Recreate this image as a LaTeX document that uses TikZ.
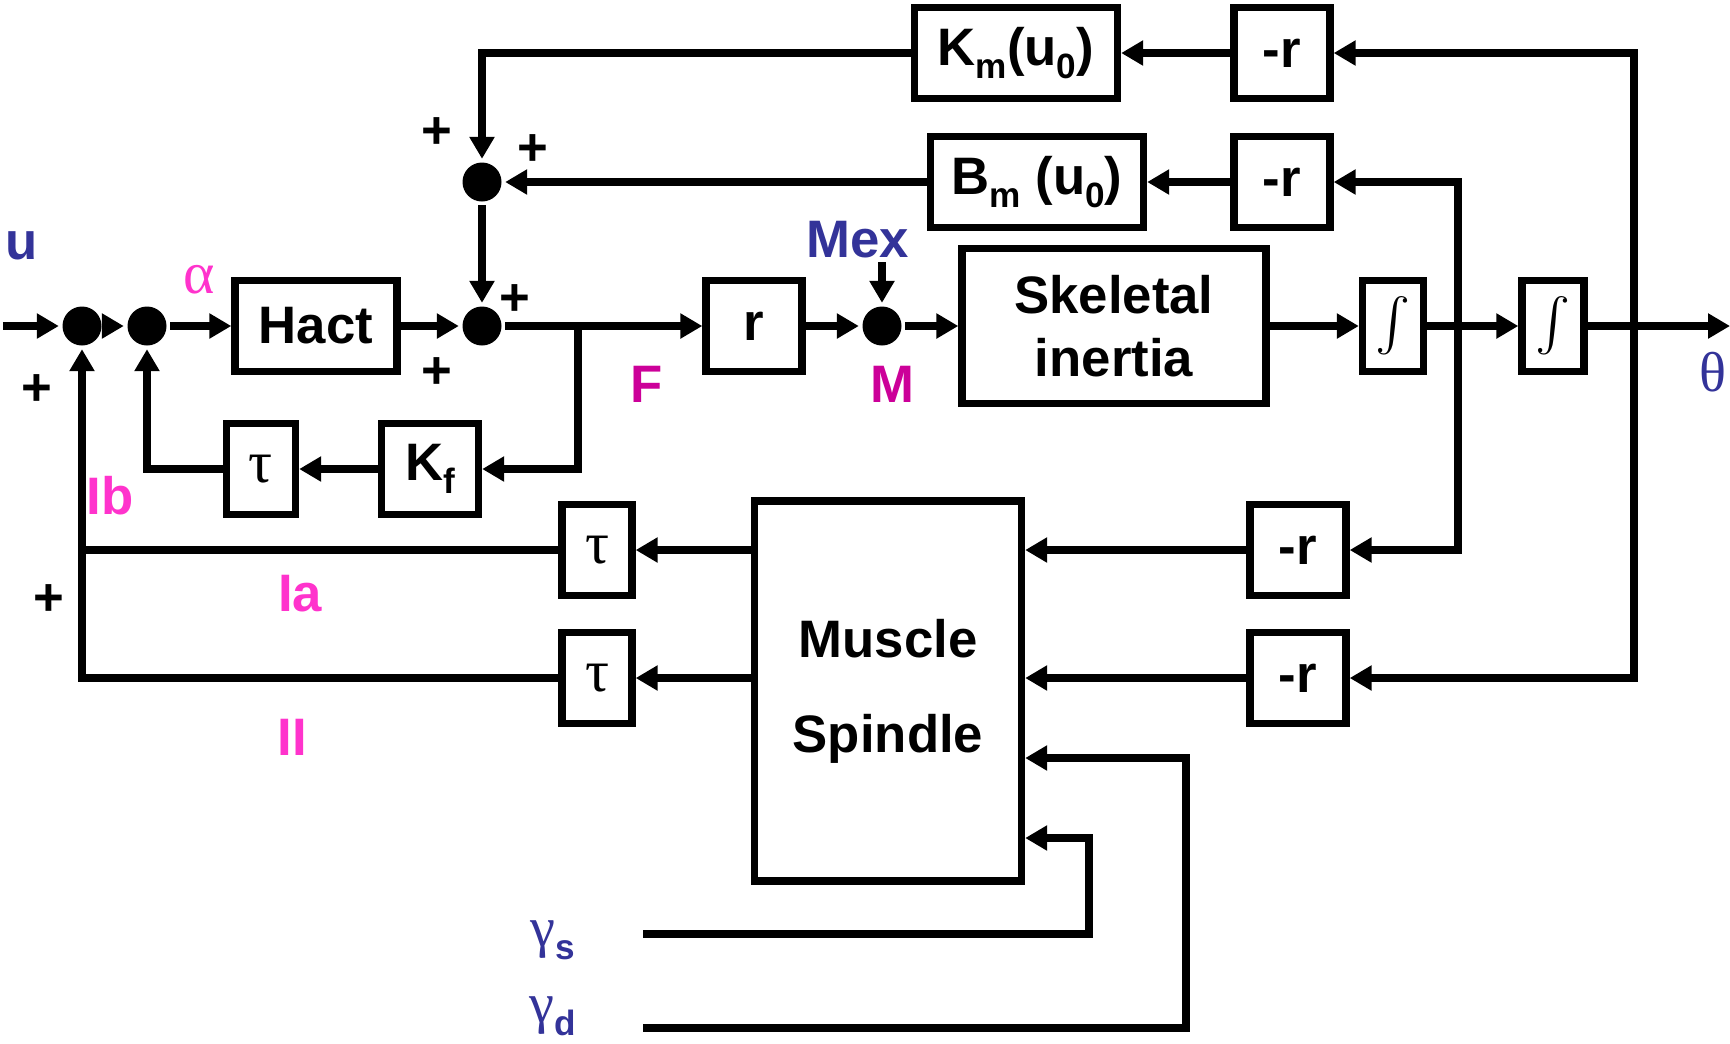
\documentclass[tikz,border=0pt]{standalone}
\usepackage{fontspec}
\usepackage{graphicx}
\setmainfont{Liberation Sans}
\newfontfamily\grk{Liberation Serif}
\usetikzlibrary{arrows.meta}

\definecolor{sigblue}{HTML}{333399}
\definecolor{sigpink}{HTML}{FF33CC}
\definecolor{sigmag}{HTML}{CC0099}

\newcommand{\lowsub}[1]{\raisebox{-1.3mm}{\fontsize{10}{10}\selectfont #1}}

\begin{document}
\begin{tikzpicture}[
    x=0.1mm, y=-0.1mm,
    line width=2.1pt,
    >={Triangle[length=2.2mm, width=2.4mm]},
    every node/.style={font=\fontsize{15}{18}\selectfont\bfseries},
    block/.style={draw, rectangle, inner sep=0pt, align=center, minimum height=9.1mm},
    sumpt/.style={circle, fill=black, draw=none, inner sep=0pt, minimum size=3.9mm},
    greeklbl/.style={font=\grk\fontsize{17}{17}\selectfont}
]
    \useasboundingbox (0,0) rectangle (1730,1043);

    % --------------------------------------------------------
    % 1. SUMMING POINTS AND BLOCKS
    % --------------------------------------------------------

    \node (s1) [sumpt] at (82,326) {};
    \node (s2) [sumpt] at (147,326) {};
    \node (s3) [sumpt] at (482,326) {};
    \node (s4) [sumpt] at (482,182) {};
    \node (s5) [sumpt] at (882,326) {};

    % forward path
    \node (hact) [block, minimum width=16.2mm] at (316,326) {Hact};
    \node (r) [block, minimum width=9.6mm] at (754,326) {r};
    \node (skel) [block, minimum width=30.4mm, minimum height=15.5mm] at (1114,326) {Skeletal\\inertia};
    \node (int1) [block, minimum width=6.1mm] at (1393,326) {\scalebox{1.5}{$\int$}};
    \node (int2) [block, minimum width=6.2mm] at (1553,326) {\scalebox{1.5}{$\int$}};

    % force feedback
    \node (kf) [block, minimum width=9.7mm] at (430,469) {K\lowsub{f}};
    \node (tau1) [block, minimum width=6.9mm, greeklbl] at (261,469) {τ};

    % muscle stiffness and viscosity
    \node (nr1) [block, minimum width=9.6mm] at (1282,53) {-r};
    \node (km) [block, minimum width=20.3mm] at (1016,53) {K\lowsub{m}(u\lowsub{0})};
    \node (nr2) [block, minimum width=9.6mm] at (1282,182) {-r};
    \node (bm) [block, minimum width=21.3mm] at (1037,182) {B\lowsub{m} (u\lowsub{0})};

    % spindle path
    \node (spin) [block, minimum width=26.7mm, minimum height=38mm] at (888,691) {Muscle\\[9pt]Spindle};
    \node (nr3) [block, minimum width=9.6mm] at (1298,550) {-r};
    \node (nr4) [block, minimum width=9.6mm] at (1298,678) {-r};
    \node (tau2) [block, minimum width=7mm, greeklbl] at (597,550) {τ};
    \node (tau3) [block, minimum width=7mm, greeklbl] at (597,678) {τ};

    % --------------------------------------------------------
    % 2. SIGNAL LABELS
    % --------------------------------------------------------

    \node (ulbl) [text=sigblue] at (22,246) {u};
    \node (alpha) [text=sigpink, greeklbl] at (199,280) {α};
    \node (iblbl) [text=sigpink] at (110,496) {Ib};
    \node (ialbl) [text=sigpink] at (300,594) {Ia};
    \node (iilbl) [text=sigpink] at (292,737) {II};
    \node (flbl) [text=sigmag] at (647,384) {F};
    \node (mlbl) [text=sigmag] at (892,384) {M};
    \node (mex) [text=sigblue] at (858,240) {Mex};
    \node (theta) [text=sigblue, font=\grk\fontsize{16}{16}\selectfont] at (1713,372) {θ};
    \node (gslbl) [text=sigblue] at (553,940) {{\grk\mdseries\fontsize{16}{16}\selectfont γ}\lowsub{s}};
    \node (gdlbl) [text=sigblue] at (553,1016) {{\grk\mdseries\fontsize{16}{16}\selectfont γ}\lowsub{d}};

    % signs at the summing points
    \node (p1) at (437,133) {+};
    \node (p2) at (533,150) {+};
    \node (p3) at (515,300) {+};
    \node (p4) at (437,373) {+};
    \node (p5) at (37,390) {+};
    \node (p6) at (49,600) {+};

    % --------------------------------------------------------
    % 3. CONNECTIONS
    % --------------------------------------------------------

    \coordinate (uin) at (3,326);
    \coordinate (fb) at (578,326);
    \coordinate (mexin) at (882,262);
    \coordinate (vb) at (1458,326);
    \coordinate (pb) at (1634,326);
    \coordinate (out) at (1730,326);
    \coordinate (gs) at (643,934);
    \coordinate (gsk) at (1089,838);
    \coordinate (gd) at (643,1028);
    \coordinate (gdk) at (1186,758);

    % forward path
    \draw [->] (uin) -- (s1);
    \draw [->] (s1) -- (s2);
    \draw [->] (s2) -- (hact);
    \draw [->] (hact) -- (s3);
    \draw [->] (s3) -- (r);
    \draw [->] (r) -- (s5);
    \draw [->] (mexin) -- (s5);
    \draw [->] (s5) -- (skel);
    \draw [->] (skel) -- (int1);
    \draw [->] (int1) -- (int2);
    \draw [->] (int2) -- (out);

    % force feedback loop
    \draw [->] (fb) |- (kf);
    \draw [->] (kf) -- (tau1);
    \draw [->] (tau1) -| (s2);

    % stiffness and viscosity loops
    \draw [->] (pb) |- (nr1);
    \draw [->] (nr1) -- (km);
    \draw [->] (km) -| (s4);
    \draw [->] (vb) |- (nr2);
    \draw [->] (nr2) -- (bm);
    \draw [->] (bm) -- (s4);
    \draw [->] (s4) -- (s3);

    % spindle loops
    \draw [->] (vb) |- (nr3);
    \draw [->] (pb) |- (nr4);
    \draw [->] (nr3) -- (nr3 -| spin.east);
    \draw [->] (nr4) -- (nr4 -| spin.east);
    \draw [->] (gd) -| (gdk) -- (gdk -| spin.east);
    \draw [->] (gs) -| (gsk) -- (gsk -| spin.east);
    \draw [->] (tau2 -| spin.west) -- (tau2);
    \draw [->] (tau3 -| spin.west) -- (tau3);
    \draw (tau2) -- (tau2 -| s1);
    \draw [->] (tau3) -| (s1);

\end{tikzpicture}
\end{document}
